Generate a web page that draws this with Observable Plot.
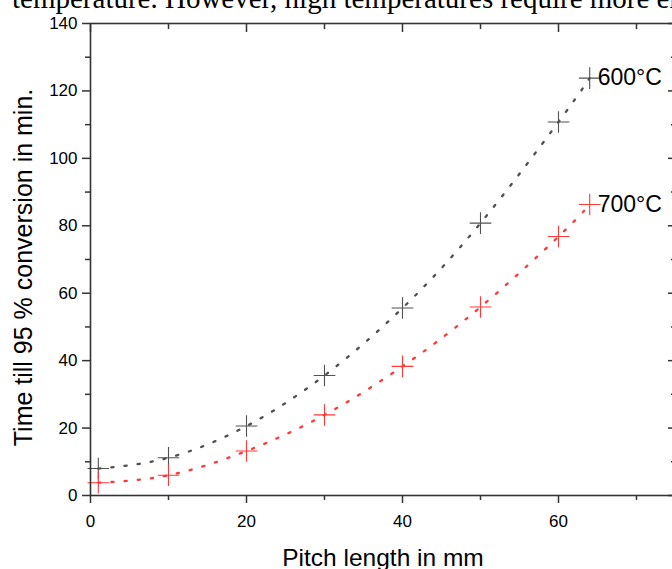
<!DOCTYPE html>
<html><head><meta charset="utf-8">
<script src="https://cdn.jsdelivr.net/npm/d3@7"></script>
<script src="https://cdn.jsdelivr.net/npm/@observablehq/plot@0.6"></script>
<style>
html,body{margin:0;padding:0;overflow:hidden;background:#fff;width:672px;height:569px;}
#wrap{position:relative;width:672px;height:569px;overflow:hidden;}
#para{position:absolute;left:12px;top:-16px;font-size:29px;font-family:"Liberation Serif","Times New Roman",serif;white-space:nowrap;color:#000;line-height:29px;}
#chart{position:absolute;left:0;top:0;}
#chart svg{max-width:none !important;}
</style></head><body>
<div id="wrap"><div id="chart"></div><div id="para">temperature. However, high temperatures require more energy</div></div>
<script>
const pitch = [1, 10, 20, 30, 40, 50, 60, 64];
const time600 = [8.0, 11.2, 20.6, 35.6, 55.6, 80.8, 110.8, 123.8];
const time700 = [3.8, 6.0, 13.2, 23.9, 38.3, 55.9, 76.8, 86.3];
const seriesLabels = ["600°C", "700°C"];
const seriesColors = ["#505050", "#ff3838"];
const yMajor = [0, 20, 40, 60, 80, 100, 120, 140];
const yMinor = [10, 30, 50, 70, 90, 110, 130];
const xMajor = [0, 20, 40, 60];
const xMinor = [10, 30, 50, 70];
const xTitle = "Pitch length in mm";
const yTitle = "Time till 95 % conversion in min.";

const seriesValues = [time600, time700];
const rows = seriesLabels.flatMap((s, i) => pitch.map((p, j) => ({series: s, pitch: p, time: seriesValues[i][j]})));
const last = seriesLabels.map((s, i) => ({series: s, pitch: pitch[pitch.length - 1], time: seriesValues[i][pitch.length - 1]}));

const axisStroke = "#333";
const chart = Plot.plot({
  width: 675,
  height: 569,
  marginLeft: 90,
  marginRight: 0,
  marginTop: 23,
  marginBottom: 74,
  style: {fontFamily: "Liberation Sans, Arial, sans-serif", color: "#000", background: "transparent"},
  x: {domain: [0, 75]},
  y: {domain: [0, 140]},
  color: {domain: seriesLabels, range: seriesColors},
  marks: [
    Plot.line(rows, {x: "pitch", y: "time", z: "series", stroke: "series", curve: "natural", strokeWidth: 2.3, strokeDasharray: "2.2 11"}),
    Plot.dot(rows, {x: "pitch", y: "time", stroke: "series", symbol: "plus", r: 7, strokeWidth: 1.1}),
    Plot.text(last, {x: "pitch", y: "time", text: "series", dx: 8, textAnchor: "start", fontSize: 23, fill: "#000"}),
    Plot.frame({stroke: axisStroke, strokeWidth: 1.6}),
    Plot.axisY({anchor: "left", ticks: yMajor, tickSize: 8, tickPadding: 5, fontSize: 17, label: null, stroke: axisStroke, strokeWidth: 1.5}),
    Plot.axisY({anchor: "left", ticks: yMinor, tickSize: 5, tickFormat: () => "", label: null, stroke: axisStroke, strokeWidth: 1.5}),
    Plot.axisY({anchor: "right", ticks: yMajor, tickSize: 8, dx: -8, tickFormat: () => "", label: null, stroke: axisStroke, strokeWidth: 1.5}),
    Plot.axisY({anchor: "right", ticks: yMinor, tickSize: 5, dx: -5, tickFormat: () => "", label: null, stroke: axisStroke, strokeWidth: 1.5}),
    Plot.axisX({anchor: "bottom", ticks: xMajor, tickSize: 8, tickPadding: 11, fontSize: 17, label: null, stroke: axisStroke, strokeWidth: 1.5}),
    Plot.axisX({anchor: "bottom", ticks: xMinor, tickSize: 5, tickFormat: () => "", label: null, stroke: axisStroke, strokeWidth: 1.5}),
    Plot.axisX({anchor: "top", ticks: xMajor, tickSize: 8, dy: 8, tickFormat: () => "", label: null, stroke: axisStroke, strokeWidth: 1.5}),
    Plot.axisX({anchor: "top", ticks: xMinor, tickSize: 5, dy: 5, tickFormat: () => "", label: null, stroke: axisStroke, strokeWidth: 1.5}),
    Plot.text([xTitle], {frameAnchor: "bottom", dy: 70, fontSize: 24.5, fill: "#000"}),
    Plot.text([yTitle], {frameAnchor: "left", textAnchor: "middle", rotate: -90, dx: -67, dy: 8, fontSize: 25, fill: "#000"})
  ]
});
document.getElementById("chart").appendChild(chart);
</script>
</body></html>
